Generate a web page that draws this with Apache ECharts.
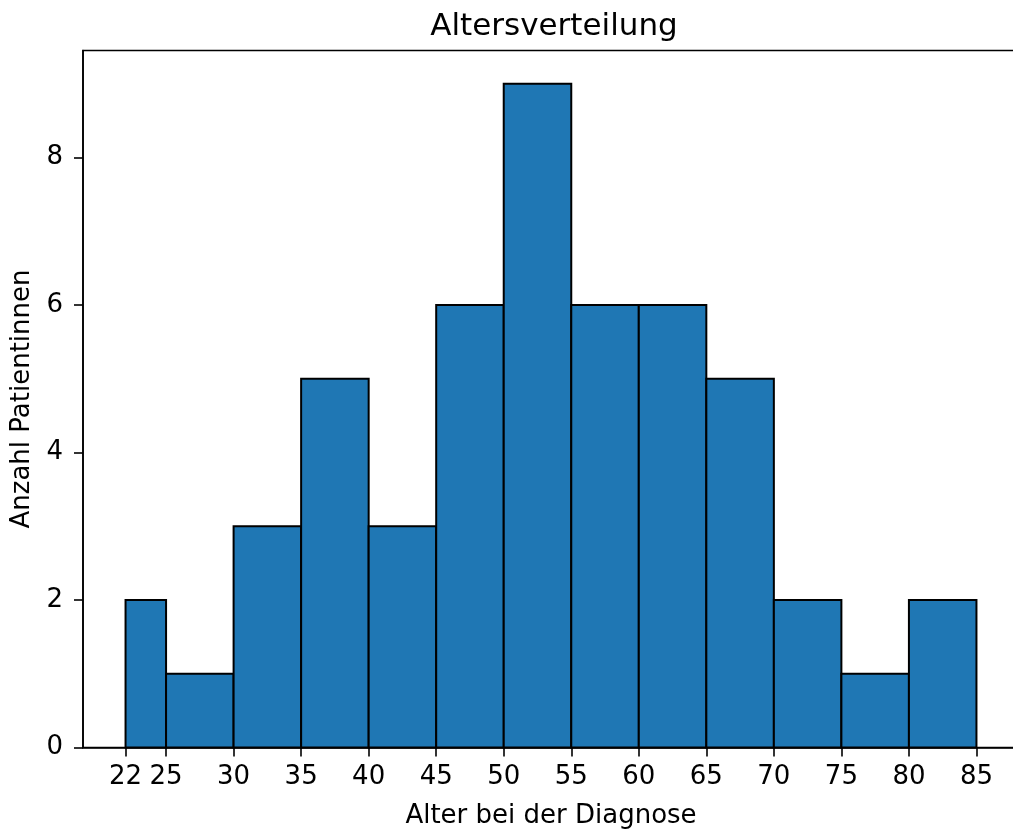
<!DOCTYPE html>
<html>
<head>
<meta charset="utf-8">
<script src="https://cdn.jsdelivr.net/npm/echarts@6/dist/echarts.min.js"></script>
<style>html,body{margin:0;padding:0;background:#fff}#c{width:1013px;height:830px}</style>
</head>
<body>
<div id="c"></div>
<script>
var binStarts = [22, 25, 30, 35, 40, 45, 50, 55, 60, 65, 70, 75, 80];
var binEnds   = [25, 30, 35, 40, 45, 50, 55, 60, 65, 70, 75, 80, 85];
var counts    = [2, 1, 3, 5, 3, 6, 9, 6, 6, 5, 2, 1, 2];
var xTicks = [22, 25, 30, 35, 40, 45, 50, 55, 60, 65, 70, 75, 80, 85];
var yTicks = [0, 2, 4, 6, 8];

var data = binStarts.map(function (s, i) { return [s, binEnds[i], counts[i]]; });
var font = 'DejaVu Sans';
var chart = echarts.init(document.getElementById('c'), null, {renderer: 'canvas'});
chart.setOption({
  animation: false,
  backgroundColor: '#fff',
  title: {
    text: 'Altersverteilung', left: 549, top: 6, textAlign: 'center',
    textStyle: {fontFamily: font, fontSize: 31, fontWeight: 'normal', color: '#000'}
  },
  grid: {left: 83, right: -6, top: 50.5, bottom: 82.5, containLabel: false,
         outerBoundsMode: 'none',
         show: true, borderColor: '#000', borderWidth: 1.6, backgroundColor: 'transparent'},
  xAxis: {
    type: 'value', min: 18.85, max: 88.15,
    name: 'Alter bei der Diagnose', nameLocation: 'middle', nameGap: 56,
    nameTextStyle: {fontFamily: font, fontSize: 26, color: '#000'},
    axisLine: {show: true, onZero: false, lineStyle: {color: '#000', width: 1.6}},
    axisTick: {show: true, length: 9, customValues: xTicks, lineStyle: {color: '#000', width: 1.6}},
    axisLabel: {customValues: xTicks, margin: 17, fontFamily: font, fontSize: 26, color: '#000'},
    splitLine: {show: false}
  },
  yAxis: {
    type: 'value', min: 0, max: 9.45,
    name: 'Anzahl Patientinnen', nameLocation: 'middle', nameGap: 34,
    nameTextStyle: {fontFamily: font, fontSize: 26, color: '#000'},
    axisLine: {show: true, lineStyle: {color: '#000', width: 1.6}},
    axisTick: {show: true, length: 9, customValues: yTicks, lineStyle: {color: '#000', width: 1.6}},
    axisLabel: {customValues: yTicks, margin: 20, fontFamily: font, fontSize: 26, color: '#000'},
    splitLine: {show: false}
  },
  series: [{
    type: 'custom',
    data: data,
    renderItem: function (params, api) {
      var p0 = api.coord([api.value(0), 0]);
      var p1 = api.coord([api.value(1), api.value(2)]);
      return {
        type: 'rect',
        shape: {x: p0[0], y: p1[1], width: p1[0] - p0[0], height: p0[1] - p1[1]},
        style: {fill: '#1f77b4', stroke: '#000', lineWidth: 2}
      };
    },
    encode: {x: [0, 1], y: 2}
  }]
});
</script>
</body>
</html>
